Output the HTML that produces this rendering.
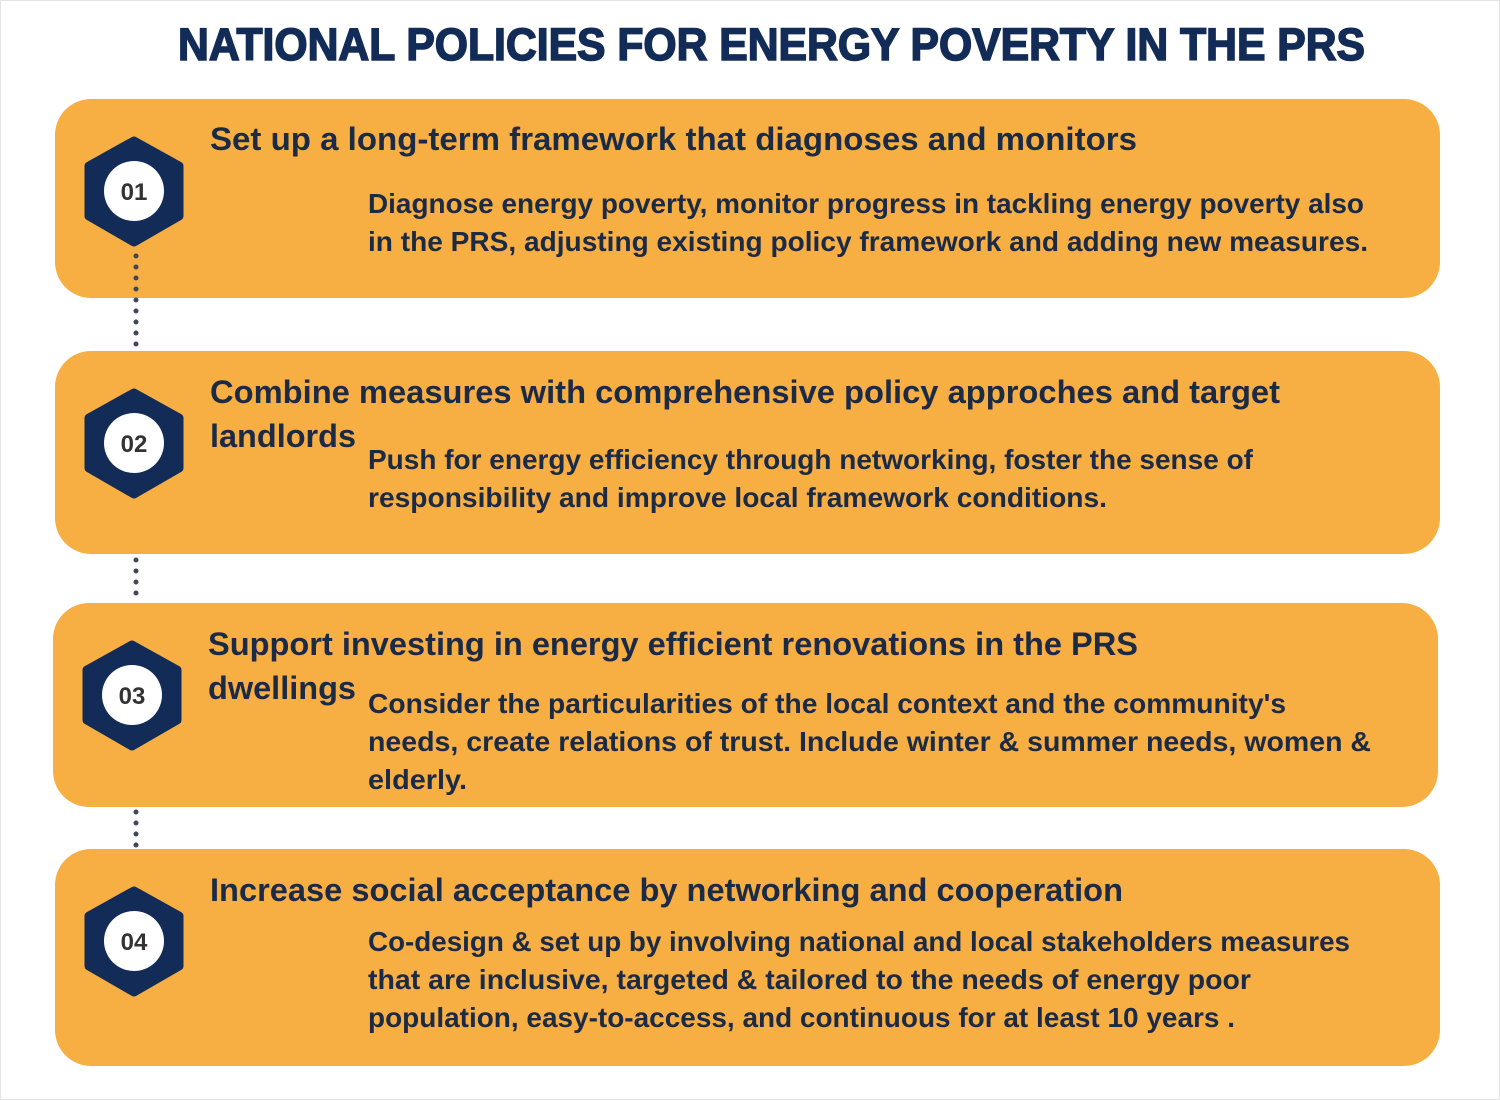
<!DOCTYPE html>
<html><head><meta charset="utf-8"><style>
html,body{margin:0;padding:0;background:#fff;}
svg{display:block;}
text{font-family:"Liberation Sans",sans-serif;font-weight:bold;fill:#1b2a45;}
</style></head><body>
<svg width="1500" height="1100" viewBox="0 0 1500 1100" xmlns="http://www.w3.org/2000/svg">
<rect x="0.5" y="0.5" width="1499" height="1099" fill="#fff" stroke="#e4e4e4"/>
<text x="178" y="60" font-size="45" textLength="1187" lengthAdjust="spacingAndGlyphs" style="fill:#132c57;stroke:#132c57;stroke-width:1.6;font-weight:900">NATIONAL POLICIES FOR ENERGY POVERTY IN THE PRS</text>

<g fill="#f7ae42">
<rect x="55" y="99" width="1385" height="199" rx="36"/>
<rect x="55" y="351" width="1385" height="203" rx="36"/>
<rect x="53" y="603" width="1385" height="204" rx="36"/>
<rect x="55" y="849" width="1385" height="217" rx="36"/>
</g>

<g stroke="#404656" stroke-width="5" stroke-linecap="round" stroke-dasharray="0 11" fill="none">
<line x1="136" y1="256" x2="136" y2="346"/>
<line x1="136" y1="560" x2="136" y2="600"/>
<line x1="136" y1="812" x2="136" y2="848"/>
</g>

<g fill="#132c57" stroke="#132c57" stroke-width="9" stroke-linejoin="round">
<polygon points="134,141 179,166 179,216 134,242 89,216 89,166"/>
<polygon points="134,393 179,418 179,468 134,494 89,468 89,418"/>
<polygon points="132,645 177,670 177,720 132,746 87,720 87,670"/>
<polygon points="134,891 179,916 179,966 134,992 89,966 89,916"/>
</g>
<g fill="#fff">
<circle cx="134" cy="191" r="30"/>
<circle cx="134" cy="443" r="30"/>
<circle cx="132" cy="695" r="30"/>
<circle cx="134" cy="941" r="30"/>
</g>
<g font-size="24" text-anchor="middle" style="fill:#333">
<text x="134" y="200" style="fill:#333">01</text>
<text x="134" y="452" style="fill:#333">02</text>
<text x="132" y="704" style="fill:#333">03</text>
<text x="134" y="950" style="fill:#333">04</text>
</g>

<g font-size="32" lengthAdjust="spacingAndGlyphs">
<text x="210" y="150" textLength="927" lengthAdjust="spacingAndGlyphs">Set up a long-term framework that diagnoses and monitors</text>
<text x="210" y="403" textLength="1070" lengthAdjust="spacingAndGlyphs">Combine measures with comprehensive policy approches and target</text>
<text x="210" y="447" textLength="146" lengthAdjust="spacingAndGlyphs">landlords</text>
<text x="208" y="655" textLength="930" lengthAdjust="spacingAndGlyphs">Support investing in energy efficient renovations in the PRS</text>
<text x="208" y="699" textLength="148" lengthAdjust="spacingAndGlyphs">dwellings</text>
<text x="210" y="901" textLength="913" lengthAdjust="spacingAndGlyphs">Increase social acceptance by networking and cooperation</text>
</g>

<g font-size="28">
<text x="368" y="213" textLength="996" lengthAdjust="spacingAndGlyphs">Diagnose energy poverty, monitor progress in tackling energy poverty also</text>
<text x="368" y="251" textLength="1000" lengthAdjust="spacingAndGlyphs">in the PRS,  adjusting existing policy framework and adding new measures.</text>
<text x="368" y="469" textLength="885" lengthAdjust="spacingAndGlyphs">Push for energy efficiency through networking, foster the sense of</text>
<text x="368" y="507" textLength="739" lengthAdjust="spacingAndGlyphs">responsibility and improve local framework conditions.</text>
<text x="368" y="713" textLength="918" lengthAdjust="spacingAndGlyphs">Consider the particularities of the local context and the community's</text>
<text x="368" y="751" textLength="1003" lengthAdjust="spacingAndGlyphs">needs, create relations of trust. Include winter &amp; summer needs, women &amp;</text>
<text x="368" y="789" textLength="99" lengthAdjust="spacingAndGlyphs">elderly.</text>
<text x="368" y="951" textLength="982" lengthAdjust="spacingAndGlyphs">Co-design &amp; set up by involving national and local stakeholders measures</text>
<text x="368" y="989" textLength="883" lengthAdjust="spacingAndGlyphs">that are inclusive, targeted &amp; tailored to the needs of energy poor</text>
<text x="368" y="1027" textLength="867" lengthAdjust="spacingAndGlyphs">population, easy-to-access, and continuous for at least 10 years .</text>
</g>
</svg>
</body></html>
